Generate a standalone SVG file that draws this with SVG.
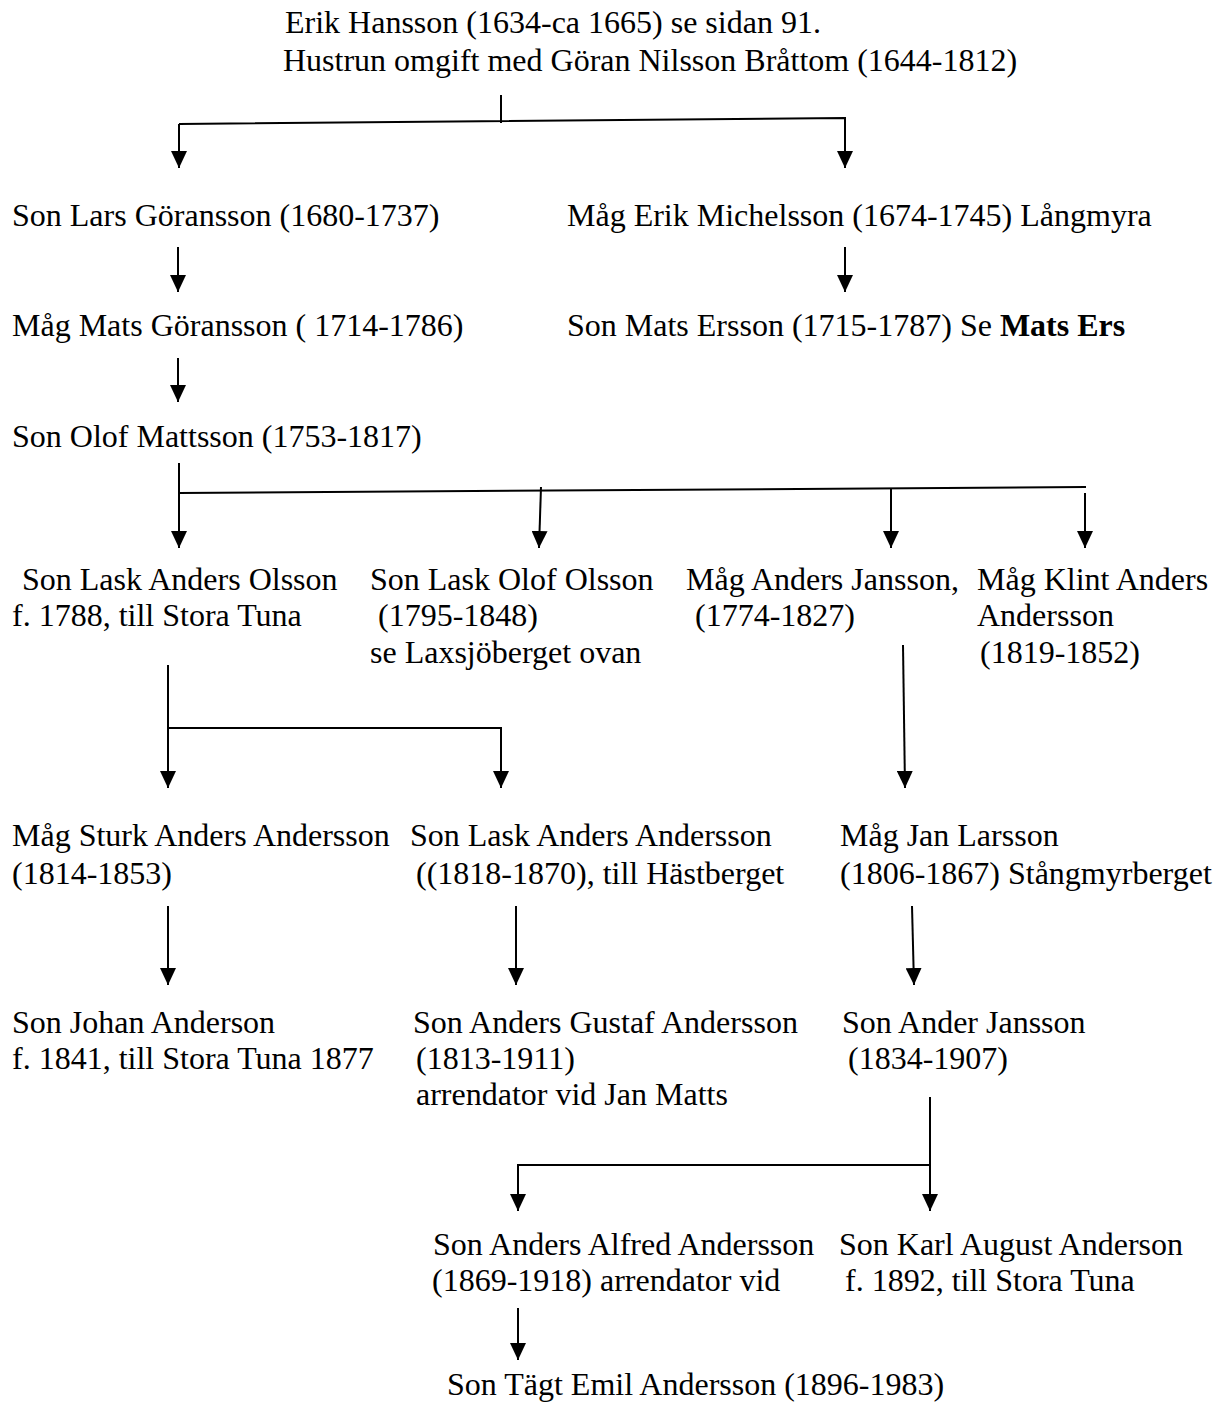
<svg xmlns="http://www.w3.org/2000/svg" width="1217" height="1403" viewBox="0 0 1217 1403">
<style>
text{font-family:"Liberation Serif","Times New Roman",serif;font-size:32px;fill:#000}
.c{stroke:#000;stroke-width:2;fill:none}
.b{font-weight:bold}
</style>
<defs>
<marker id="ah" markerUnits="userSpaceOnUse" markerWidth="17" markerHeight="16" refX="17" refY="8" orient="auto" viewBox="0 0 17 16">
<path d="M0,0 L17,8 L0,16 z" fill="#000"/>
</marker>
</defs>
<rect width="1217" height="1403" fill="#fff"/>
<g id="connectors">
<path class="c" d="M501,95 V123"/>
<path class="c" d="M179,124 L845,118 V168" marker-end="url(#ah)"/>
<path class="c" d="M179,124 V168" marker-end="url(#ah)"/>
<path class="c" d="M178,247 V292" marker-end="url(#ah)"/>
<path class="c" d="M845,247 V292" marker-end="url(#ah)"/>
<path class="c" d="M178,358 V402" marker-end="url(#ah)"/>
<path class="c" d="M179,463 V548" marker-end="url(#ah)"/>
<path class="c" d="M179,493 L1086,487"/>
<path class="c" d="M541,487 L539,548" marker-end="url(#ah)"/>
<path class="c" d="M891,488 V548" marker-end="url(#ah)"/>
<path class="c" d="M1085,493 V548" marker-end="url(#ah)"/>
<path class="c" d="M168,665 V788" marker-end="url(#ah)"/>
<path class="c" d="M168,728 H501 V788" marker-end="url(#ah)"/>
<path class="c" d="M903,645 L905,788" marker-end="url(#ah)"/>
<path class="c" d="M168,906 V985" marker-end="url(#ah)"/>
<path class="c" d="M516,906 V985" marker-end="url(#ah)"/>
<path class="c" d="M912,906 L914,985" marker-end="url(#ah)"/>
<path class="c" d="M930,1097 V1211" marker-end="url(#ah)"/>
<path class="c" d="M930,1165 H518 V1211" marker-end="url(#ah)"/>
<path class="c" d="M518,1308 V1360" marker-end="url(#ah)"/>
</g>
<g id="n-erik"><text x="285" y="33">Erik Hansson (1634-ca 1665) se sidan 91.</text><text x="283" y="71">Hustrun omgift med Göran Nilsson Bråttom (1644-1812)</text></g>
<g id="n-lars"><text x="12" y="226">Son Lars Göransson (1680-1737)</text></g>
<g id="n-erikm"><text x="567" y="226">Måg Erik Michelsson (1674-1745) Långmyra</text></g>
<g id="n-matsg"><text x="12" y="336">Måg Mats Göransson ( 1714-1786)</text></g>
<g id="n-matse"><text x="567" y="336">Son Mats Ersson (1715-1787) Se <tspan class="b">Mats Ers</tspan></text></g>
<g id="n-olof"><text x="12" y="447">Son Olof Mattsson (1753-1817)</text></g>
<g id="n-laskanders"><text x="22" y="590">Son Lask Anders Olsson</text><text x="12" y="626">f. 1788, till Stora Tuna</text></g>
<g id="n-laskolof"><text x="370" y="590">Son Lask Olof Olsson</text><text x="378" y="626">(1795-1848)</text><text x="370" y="663">se Laxsjöberget ovan</text></g>
<g id="n-andersj"><text x="686" y="590">Måg Anders Jansson,</text><text x="695" y="626">(1774-1827)</text></g>
<g id="n-klint"><text x="977" y="590">Måg Klint Anders</text><text x="977" y="626">Andersson</text><text x="980" y="663">(1819-1852)</text></g>
<g id="n-sturk"><text x="12" y="846">Måg Sturk Anders Andersson</text><text x="12" y="884">(1814-1853)</text></g>
<g id="n-laskaa"><text x="410" y="846">Son Lask Anders Andersson</text><text x="416" y="884">((1818-1870), till Hästberget</text></g>
<g id="n-jan"><text x="840" y="846">Måg Jan Larsson</text><text x="840" y="884">(1806-1867) Stångmyrberget</text></g>
<g id="n-johan"><text x="12" y="1033">Son Johan Anderson</text><text x="12" y="1069">f. 1841, till Stora Tuna 1877</text></g>
<g id="n-gustaf"><text x="413" y="1033">Son Anders Gustaf Andersson</text><text x="416" y="1069">(1813-1911)</text><text x="416" y="1105">arrendator vid Jan Matts</text></g>
<g id="n-ander"><text x="842" y="1033">Son Ander Jansson</text><text x="848" y="1069">(1834-1907)</text></g>
<g id="n-alfred"><text x="433" y="1255">Son Anders Alfred Andersson</text><text x="432" y="1291">(1869-1918) arrendator vid</text></g>
<g id="n-karl"><text x="839" y="1255">Son Karl August Anderson</text><text x="845" y="1291">f. 1892, till Stora Tuna</text></g>
<g id="n-tagt"><text x="447" y="1395">Son Tägt Emil Andersson (1896-1983)</text></g>
</svg>
